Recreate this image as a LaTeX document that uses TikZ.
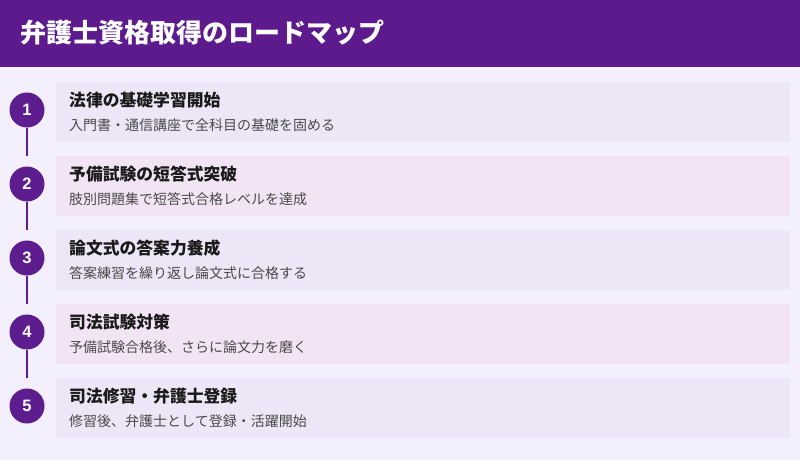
\documentclass[tikz,border=0pt]{standalone}
\usepackage{fontspec}
\setmainfont{Noto Sans CJK JP}
\newfontfamily\numfont{Liberation Sans}
\definecolor{bg}{HTML}{F3EFFD}
\definecolor{hdr}{HTML}{5C1A8C}
\definecolor{purp}{HTML}{5E1D8F}
\definecolor{rowa}{HTML}{EDE6F6}
\definecolor{rowb}{HTML}{F3E4F5}
\definecolor{ttl}{HTML}{1A1A1A}
\definecolor{dsc}{HTML}{4A4A4A}
\tikzset{
  rowbox/.style={rectangle, inner sep=0, minimum width=734pt, minimum height=60pt, anchor=north west},
  numcirc/.style={circle, fill=purp, inner sep=0, minimum size=35pt, text=white, font=\numfont\bfseries\fontsize{16.5}{18}\selectfont},
  rowtitle/.style={anchor=west, inner sep=0, text=ttl, font=\bfseries\fontsize{16.8}{19}\selectfont},
  rowdesc/.style={anchor=west, inner sep=0, text=dsc, font=\fontsize{14}{16}\selectfont},
  link/.style={draw=purp, line width=2pt}
}
\begin{document}
\begin{tikzpicture}[x=1pt,y=-1pt]
\useasboundingbox (0,0) rectangle (800,460);
\fill[bg] (0,0) rectangle (800,460);
\fill[hdr] (0,0) rectangle (800,67);
\node[anchor=west, inner sep=0, text=white, font=\bfseries\fontsize{26}{30}\selectfont] (header) at (20,33) {弁護士資格取得のロードマップ};
\foreach \i/\c/\t/\s in {
  1/rowa/法律の基礎学習開始/入門書・通信講座で全科目の基礎を固める,
  2/rowb/予備試験の短答式突破/肢別問題集で短答式合格レベルを達成,
  3/rowa/論文式の答案力養成/答案練習を繰り返し論文式に合格する,
  4/rowb/司法試験対策/予備試験合格後、さらに論文力を磨く,
  5/rowa/司法修習・弁護士登録/修習後、弁護士として登録・活躍開始}{
  \pgfmathsetmacro\yt{82+74*(\i-1)}
  \node[rowbox, fill=\c] (box\i) at (56,\yt) {};
  \node[numcirc] (num\i) at (27,\yt+28) {\i};
  \node[rowtitle] (title\i) at (69,\yt+18) {\t};
  \node[rowdesc] (desc\i) at (69,\yt+43) {\s};
}
\foreach \i/\j in {1/2,2/3,3/4,4/5}{
  \draw[link] (num\i.south) -- (num\i.south |- box\j.north);
}
\end{tikzpicture}
\end{document}
